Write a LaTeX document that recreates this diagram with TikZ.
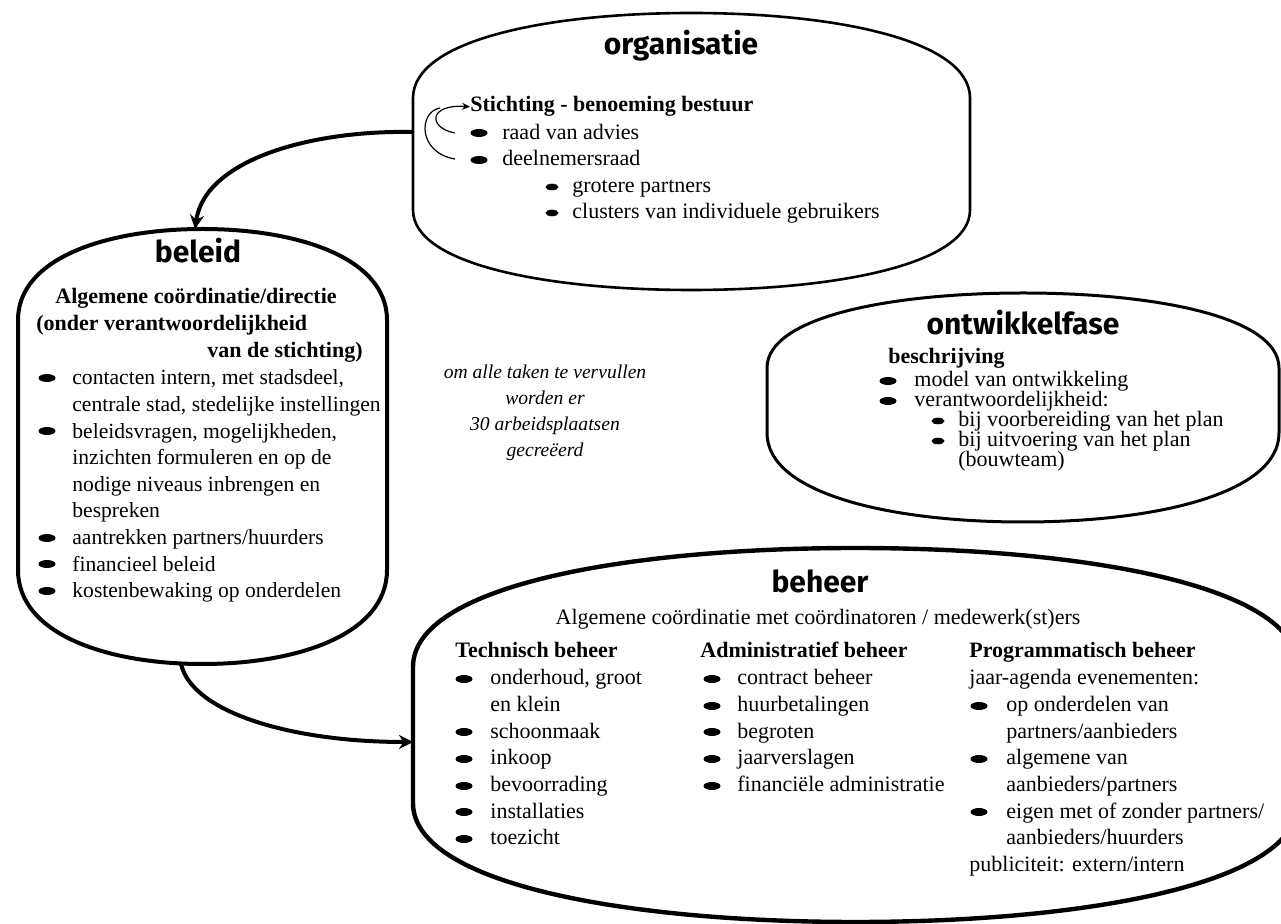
\documentclass[tikz,border=0pt]{standalone}
\usepackage{fontspec}
\setmainfont{Liberation Serif}
\newfontfamily\hdfont{Fira Sans}
\usetikzlibrary{arrows.meta}
\newcommand\barrel[7]{%
 \pgfmathsetmacro\zzL{#2}\pgfmathsetmacro\zzR{#3}\pgfmathsetmacro\zzT{#4}\pgfmathsetmacro\zzB{#5}%
 \pgfmathsetmacro\zzya{#6}\pgfmathsetmacro\zzyb{#7}%
 \pgfmathsetmacro\zzC{(\zzL+\zzR)/2}\pgfmathsetmacro\zzhw{(\zzR-\zzL)/2}%
 \pgfmathsetmacro\zzxa{\zzC-0.52*\zzhw}\pgfmathsetmacro\zzxb{\zzC+0.52*\zzhw}%
 \pgfmathsetmacro\zzta{\zzya-0.68*(\zzya-\zzT)}\pgfmathsetmacro\zzba{\zzyb+0.68*(\zzB-\zzyb)}%
 \draw[#1] (\zzL,\zzya) -- (\zzL,\zzyb) .. controls (\zzL,\zzba) and (\zzxa,\zzB) .. (\zzC,\zzB)
   .. controls (\zzxb,\zzB) and (\zzR,\zzba) .. (\zzR,\zzyb) -- (\zzR,\zzya)
   .. controls (\zzR,\zzta) and (\zzxb,\zzT) .. (\zzC,\zzT)
   .. controls (\zzxa,\zzT) and (\zzL,\zzta) .. cycle;}
\newcommand\bigbul[2]{\fill (#1,#2) ellipse [x radius=8.5, y radius=4];}
\newcommand\smbul[2]{\fill (#1,#2) ellipse [x radius=6.5, y radius=3.3];}
\begin{document}
\begin{tikzpicture}[x=0.5pt,y=-0.5pt,
  txt/.style={anchor=base west, inner sep=0pt, font=\fontsize{11}{13}\selectfont},
  stxt/.style={txt, font=\fontsize{10.8}{13}\selectfont},
  btxt/.style={txt, font=\fontsize{11}{13}\selectfont\bfseries},
  hd/.style={anchor=base, inner sep=0pt, font=\hdfont\bfseries\fontsize{15}{17}\selectfont},
  itx/.style={anchor=base, inner sep=0pt, font=\fontsize{9.8}{12}\selectfont\itshape},
  conn/.style={line width=2pt, -{Stealth[length=7pt,width=7pt]}},
  loopc/.style={line width=0.6pt}]
\useasboundingbox (0,0) rectangle (1281,924);
\clip (0,0) rectangle (1281,924);
% shapes
\barrel{line width=1.3pt}{413}{970}{13}{290}{98}{210}
\barrel{line width=2pt}{18}{387}{229}{664}{320}{570}
\barrel{line width=1.5pt}{767}{1279}{293}{522}{368}{433}
\barrel{line width=2.2pt}{413}{1298}{548}{922}{667}{803}
\coordinate (orgW) at (413,132);
\coordinate (belN) at (195,229);
\coordinate (belS) at (181,664);
\coordinate (behW) at (413,742);
% connectors
\draw[conn] (orgW) .. controls (310,130) and (205,160) .. (belN);
\draw[conn] (belS) .. controls (192,712) and (290,742) .. (behW);
% organisatie
\node[hd] (orgT) at (681,55) {organisatie};
\node[btxt] (o1) at (470,112) {Stichting - benoeming bestuur};
\coordinate (lpA) at (455,133);
\coordinate (lpB) at (455,159);
\draw[loopc, -{Stealth[length=4pt,width=3.5pt]}] (lpA) .. controls (428,128) and (428,104) .. (o1.west);
\draw[loopc] (lpB) .. controls (418,153) and (418,112) .. (440,108);
\bigbul{479}{133}\node[txt] (o2) at (502,140) {raad van advies};
\bigbul{479}{160}\node[txt] (o3) at (502,166) {deelnemersraad};
\smbul{552}{187}\node[txt] (o4) at (572,193) {grotere partners};
\smbul{552}{213}\node[txt] (o5) at (572,219) {clusters van individuele gebruikers};
% beleid
\node[hd] (belT) at (198,263) {beleid};
\node[btxt] (b1) at (55,304) {Algemene coördinatie/directie};
\node[btxt] (b2) at (36,331) {(onder verantwoordelijkheid};
\node[btxt, anchor=base east] (b3) at (363,358) {van de stichting)};
\bigbul{47}{378}\node[stxt] (b4) at (72,385) {contacten intern, met stadsdeel,};
\node[stxt] (b5) at (72,411.6) {centrale stad, stedelijke instellingen};
\bigbul{47}{431}\node[stxt] (b6) at (72,438.2) {beleidsvragen, mogelijkheden,};
\node[stxt] (b7) at (72,464.8) {inzichten formuleren en op de};
\node[stxt] (b8) at (72,491.4) {nodige niveaus inbrengen en};
\node[stxt] (b9) at (72,518) {bespreken};
\bigbul{47}{538}\node[stxt] (b10) at (72,544.6) {aantrekken partners/huurders};
\bigbul{47}{564}\node[stxt] (b11) at (72,571.2) {financieel beleid};
\bigbul{47}{591}\node[stxt] (b12) at (72,597.8) {kostenbewaking op onderdelen};
% middle
\node[itx] (m1) at (545,379) {om alle taken te vervullen};
\node[itx] (m2) at (545,405) {worden er};
\node[itx] (m3) at (545,431) {30 arbeidsplaatsen};
\node[itx] (m4) at (545,457) {gecreëerd};
% ontwikkelfase
\node[hd] (ontT) at (1023,335) {ontwikkelfase};
\node[btxt] (w1) at (888,364) {beschrijving};
\bigbul{888}{381}\node[txt] (w2) at (914,387) {model van ontwikkeling};
\bigbul{888}{401}\node[txt] (w3) at (914,407) {verantwoordelijkheid:};
\smbul{938}{421}\node[txt] (w4) at (958,427) {bij voorbereiding van het plan};
\smbul{938}{441}\node[txt] (w5) at (958,447) {bij uitvoering van het plan};
\node[txt] (w6) at (958,467) {(bouwteam)};
% beheer
\node[hd] (behT) at (820,593) {beheer};
\node[txt, anchor=base] (h0) at (818,625) {Algemene coördinatie met coördinatoren / medewerk(st)ers};
\node[btxt] (t0) at (455,658) {Technisch beheer};
\node[btxt] (a0) at (700,658) {Administratief beheer};
\node[btxt] (p0) at (969,658) {Programmatisch beheer};
\bigbul{464}{679}\node[txt] (t1) at (490,685) {onderhoud, groot};
\node[txt] (t2) at (490,711.7) {en klein};
\bigbul{464}{732}\node[txt] (t3) at (490,738.3) {schoonmaak};
\bigbul{464}{759}\node[txt] (t4) at (490,765) {inkoop};
\bigbul{464}{786}\node[txt] (t5) at (490,791.7) {bevoorrading};
\bigbul{464}{812}\node[txt] (t6) at (490,818.3) {installaties};
\bigbul{464}{839}\node[txt] (t7) at (490,845) {toezicht};
\bigbul{712}{679}\node[txt] (a1) at (737,685) {contract beheer};
\bigbul{712}{706}\node[txt] (a2) at (737,711.7) {huurbetalingen};
\bigbul{712}{732}\node[txt] (a3) at (737,738.3) {begroten};
\bigbul{712}{759}\node[txt] (a4) at (737,765) {jaarverslagen};
\bigbul{712}{786}\node[txt] (a5) at (737,791.7) {financiële administratie};
\node[txt] (p1) at (969,685) {jaar-agenda evenementen:};
\bigbul{979}{706}\node[txt] (p2) at (1006,711.7) {op onderdelen van};
\node[txt] (p3) at (1006,738.3) {partners/aanbieders};
\bigbul{979}{759}\node[txt] (p4) at (1006,765) {algemene van};
\node[txt] (p5) at (1006,791.7) {aanbieders/partners};
\bigbul{979}{812}\node[txt] (p6) at (1006,818.3) {eigen met of zonder partners/};
\node[txt] (p7) at (1006,845) {aanbieders/huurders};
\node[txt] (p8) at (969,871.7) {publiciteit: extern/intern};
\end{tikzpicture}
\end{document}
